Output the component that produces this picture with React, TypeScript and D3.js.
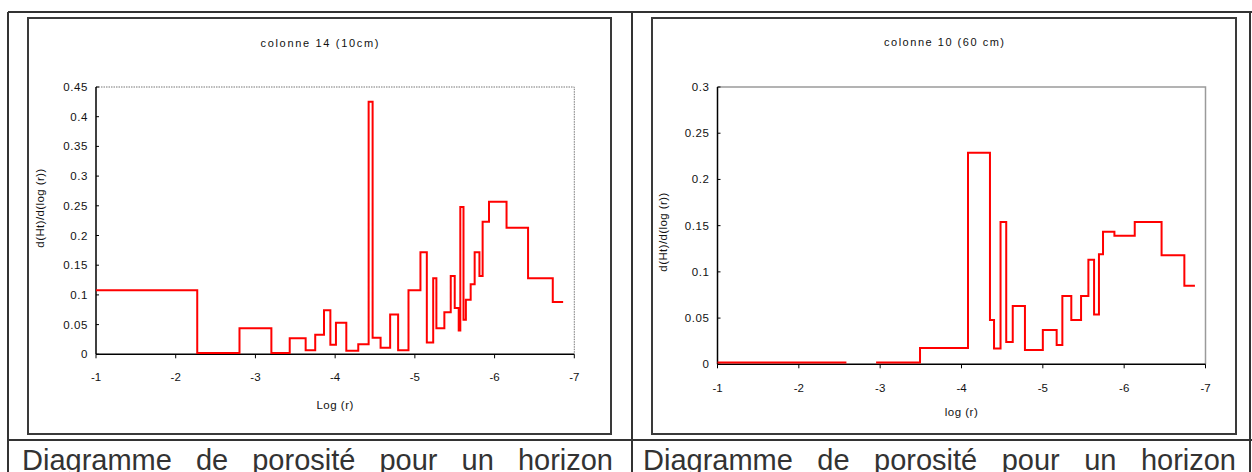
import React from 'react';
import * as d3 from 'd3';

// ---- data ----
const leftEdges = [-1, -2.27, -2.8, -3.2, -3.43, -3.63, -3.75, -3.86, -3.94, -4.01, -4.14, -4.29, -4.42, -4.47, -4.57, -4.69, -4.79, -4.92, -5.07, -5.15, -5.23, -5.27, -5.37, -5.45, -5.5, -5.55, -5.57, -5.61, -5.64, -5.7, -5.75, -5.81, -5.85, -5.93, -6.15, -6.42, -6.73, -6.86];
const leftValues = [0.108, 0.002, 0.044, 0.002, 0.027, 0.007, 0.033, 0.074, 0.016, 0.053, 0.006, 0.017, 0.425, 0.028, 0.011, 0.067, 0.007, 0.108, 0.172, 0.02, 0.128, 0.044, 0.071, 0.132, 0.078, 0.04, 0.248, 0.058, 0.092, 0.118, 0.172, 0.132, 0.223, 0.257, 0.213, 0.128, 0.088];

const rightEdges = [-1, -2.585, -2.95, -3.49, -4.08, -4.35, -4.4, -4.48, -4.55, -4.63, -4.78, -5.0, -5.17, -5.24, -5.35, -5.47, -5.56, -5.63, -5.69, -5.74, -5.88, -6.13, -6.46, -6.74, -6.87];
const rightValues: (number | null)[] = [0.002, null, 0.002, 0.0176, 0.229, 0.048, 0.017, 0.154, 0.024, 0.063, 0.0155, 0.037, 0.021, 0.074, 0.048, 0.074, 0.113, 0.054, 0.119, 0.1435, 0.139, 0.154, 0.118, 0.085];

const xTicks = [-1, -2, -3, -4, -5, -6, -7];
const leftYTicks = [0, 0.05, 0.1, 0.15, 0.2, 0.25, 0.3, 0.35, 0.4, 0.45];
const rightYTicks = [0, 0.05, 0.1, 0.15, 0.2, 0.25, 0.3];

const leftTitle = 'colonne 14 (10cm)';
const rightTitle = 'colonne 10 (60 cm)';
const yLabel = 'd(Ht)/d(log (r))';
const leftXLabel = 'Log (r)';
const rightXLabel = 'log (r)';
const caption = 'Diagramme de porosité pour un horizon';

const FONT = "'Liberation Sans', Arial, Helvetica, sans-serif";

type Pt = { x: number; v: number | null };
function stepPoints(edges: number[], values: (number | null)[]): Pt[] {
  const pts: Pt[] = [];
  values.forEach((v, i) => {
    pts.push({ x: edges[i], v });
    pts.push({ x: edges[i + 1], v });
  });
  return pts;
}

function measure(text: string, font: string): number {
  const c = document.createElement('canvas').getContext('2d');
  if (!c) return text.length * 12;
  c.font = font;
  return c.measureText(text).width;
}

type ChartProps = {
  box: [number, number, number, number];
  plot: [number, number, number, number];
  yMax: number;
  yTicks: number[];
  edges: number[];
  values: (number | null)[];
  title: string;
  titleWidth: number;
  titleY: number;
  xLabel: string;
  xLabelY: number;
  tickLabelY: number;
  yLabelX: number;
  yLabelY: number;
  frameDotted: boolean;
};

function Chart(p: ChartProps) {
  const [bx, by, bw, bh] = p.box;
  const [px0, py0, px1, py1] = p.plot;
  const x = d3.scaleLinear().domain([-1, -7]).range([px0, px1]);
  const y = d3.scaleLinear().domain([0, p.yMax]).range([py1, py0]);
  const line = d3
    .line<Pt>()
    .defined((d) => d.v !== null)
    .x((d) => x(d.x))
    .y((d) => y(d.v as number));
  const path = line(stepPoints(p.edges, p.values)) || '';
  const fmt = (v: number) => String(+v.toFixed(2));
  const cx = (bx + bx + bw) / 2;
  const pcx = (px0 + px1) / 2;
  return (
    <g>
      <rect x={bx} y={by} width={bw} height={bh} fill="#fff" stroke="#3a3a3a" strokeWidth={2} />
      <path
        d={`M${px0},${py0}H${px1}V${py1}`}
        fill="none"
        stroke={p.frameDotted ? '#777' : '#9a9a9a'}
        strokeWidth={p.frameDotted ? 1 : 1.5}
        strokeDasharray={p.frameDotted ? '1.5,1' : undefined}
      />
      <text x={cx} y={p.titleY} textAnchor="middle" fontFamily={FONT} fontSize={11} textLength={p.titleWidth} lengthAdjust="spacing" fill="#111">
        {p.title}
      </text>
      <line x1={px0} y1={py0} x2={px0} y2={py1} stroke="#000" strokeWidth={1.5} />
      {p.yTicks.map((t) => (
        <g key={'y' + t}>
          <line x1={px0} x2={px0 + 3} y1={y(t)} y2={y(t)} stroke="#000" strokeWidth={1} />
          <text x={px0 - 8} y={y(t)} dy="0.35em" textAnchor="end" fontFamily={FONT} fontSize={11.5} letterSpacing={0.6} fill="#111">
            {fmt(t)}
          </text>
        </g>
      ))}
      <line x1={px0} y1={py1} x2={px1} y2={py1} stroke="#000" strokeWidth={1.5} />
      {xTicks.map((t) => (
        <g key={'x' + t}>
          <line x1={x(t)} x2={x(t)} y1={py1} y2={py1 + 4} stroke="#000" strokeWidth={1} />
          <text x={x(t)} y={p.tickLabelY} dy="0.35em" textAnchor="middle" fontFamily={FONT} fontSize={11.5} fill="#111">
            {String(t)}
          </text>
        </g>
      ))}
      <text x={pcx} y={p.xLabelY} dy="0.35em" textAnchor="middle" fontFamily={FONT} fontSize={11.5} letterSpacing={0.5} fill="#111">
        {p.xLabel}
      </text>
      <text
        transform={`translate(${p.yLabelX},${p.yLabelY}) rotate(-90)`}
        dy="0.35em"
        textAnchor="middle"
        fontFamily={FONT}
        fontSize={11.5}
        letterSpacing={0.4}
        fill="#111"
      >
        {yLabel}
      </text>
      <path d={path} fill="none" stroke="#ff0000" strokeWidth={2} strokeLinejoin="miter" />
    </g>
  );
}

function Caption({ x0, x1, baseline }: { x0: number; x1: number; baseline: number }) {
  const size = 29;
  const font = `${size}px 'Liberation Sans', Arial, sans-serif`;
  const words = caption.split(' ');
  const widths = words.map((w) => measure(w, font));
  const total = widths.reduce((a, b) => a + b, 0);
  const gap = (x1 - x0 - total) / (words.length - 1);
  let cur = x0;
  return (
    <g>
      {words.map((w, i) => {
        const xx = cur;
        cur += widths[i] + gap;
        return (
          <text key={i} x={xx} y={baseline} fontFamily={FONT} fontSize={size} fill="#333">
            {w}
          </text>
        );
      })}
    </g>
  );
}

export default function App() {
  return (
    <svg width={1252} height={472} style={{ position: 'absolute', left: 0, top: 0, background: '#fff' }}>
      <rect x={0} y={0} width={1252} height={472} fill="#fff" />
      <g stroke="#333" strokeWidth={2} fill="none">
        <line x1={8} y1={12} x2={1252} y2={12} />
        <line x1={8} y1={12} x2={8} y2={472} />
        <line x1={632} y1={12} x2={632} y2={472} />
        <line x1={1250} y1={12} x2={1250} y2={472} />
        <line x1={8} y1={440} x2={1252} y2={440} />
      </g>
      <Chart
        box={[28, 18, 583, 416]}
        plot={[96, 87, 574.3, 354.3]}
        yMax={0.45}
        yTicks={leftYTicks}
        edges={leftEdges}
        values={leftValues}
        title={leftTitle}
        titleWidth={118}
        titleY={47}
        xLabel={leftXLabel}
        xLabelY={405}
        tickLabelY={377}
        yLabelX={40}
        yLabelY={208}
        frameDotted={true}
      />
      <Chart
        box={[652, 18, 584, 416]}
        plot={[717.5, 87, 1205.5, 364.3]}
        yMax={0.3}
        yTicks={rightYTicks}
        edges={rightEdges}
        values={rightValues}
        title={rightTitle}
        titleWidth={120}
        titleY={46}
        xLabel={rightXLabel}
        xLabelY={412}
        tickLabelY={388}
        yLabelX={663}
        yLabelY={232}
        frameDotted={false}
      />
      <Caption x0={22} x1={613} baseline={470} />
      <Caption x0={643} x1={1236} baseline={470} />
    </svg>
  );
}
